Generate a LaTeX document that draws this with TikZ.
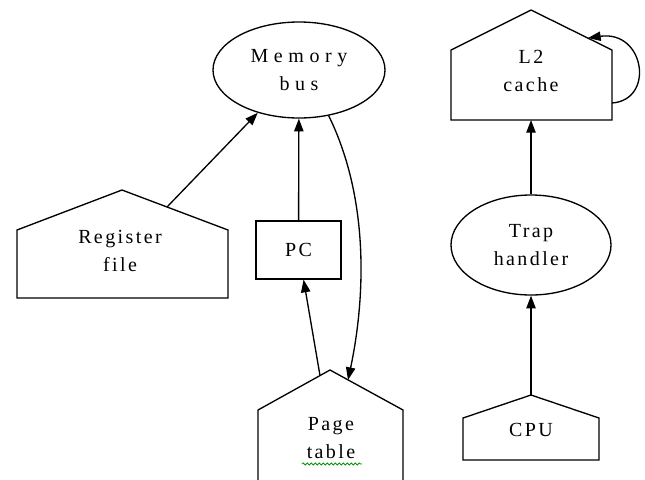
\documentclass[tikz,border=0pt]{standalone}
\usepackage{fontspec}
\setmainfont{Liberation Serif}
\usetikzlibrary{arrows.meta,shapes.geometric,decorations.pathmorphing}
\begin{document}
\begin{tikzpicture}[x=0.75pt,y=-0.75pt,
  line/.style={line width=1pt,line join=miter},
  edge/.style={line width=1pt,-{Triangle[length=9.5pt,width=7pt]}},
  lbl/.style={align=center,inner sep=0pt,font=\fontsize{15pt}{20.5pt}\selectfont\addfontfeatures{LetterSpace=12}},
  widelbl/.style={align=center,inner sep=0pt,font=\fontsize{15pt}{20.5pt}\selectfont\addfontfeatures{LetterSpace=28}},
  oval/.style={draw,line width=1pt,ellipse,inner sep=0pt},
  squig/.style={draw=green!60!black,line width=0.6pt,decorate,decoration={snake,amplitude=0.8pt,segment length=3pt}}
]
\useasboundingbox (0,0) rectangle (645,479);
\clip (0,0) rectangle (645,479);
\fill[white] (0,0) rectangle (645,479);

% Memory bus
\node[oval,minimum width=129pt,minimum height=72pt,widelbl] (mem) at (299,70) {Memory\\bus};

% Register file (house)
\draw[line] (17,298) -- (17,230) -- (122,190) coordinate (regA) -- (228,230) -- (228,298) -- cycle;
\coordinate (regR) at (167,207);
\node[lbl] (regt) at (120,251) {Register\\file};

% PC
\node[draw,line width=1pt,minimum width=63.75pt,minimum height=43.5pt,lbl] (pc) at (298.5,250) {PC};

% Page table (house, cut at bottom)
\draw[line] (258,485) -- (258,410) -- (330,370) coordinate (pagA) -- (403,410) -- (403,485);
\coordinate (pagL) at (320,375.6);
\coordinate (pagR) at (348,380);
\node[lbl] (pagt) at (331,438) {Page\\table};
\draw[squig] (302,464) -- (362,464);

% L2 cache (house)
\draw[line] (451,120) -- (451,50) -- (531,10) coordinate (l2A) -- (612,50) -- (612,120) -- cycle;
\coordinate (l2B) at (531,120);
\coordinate (l2W) at (612,103);
\coordinate (l2Roof) at (588,38);
\node[lbl] (l2t) at (531,71) {L2\\cache};

% Trap handler
\node[oval,minimum width=120pt,minimum height=75pt,lbl] (trap) at (531,245) {Trap\\handler};

% CPU (house)
\draw[line] (463,460) -- (463,418) -- (531,395) coordinate (cpuA) -- (599,418) -- (599,460) -- cycle;
\node[lbl] (cput) at (531,430) {CPU};

% connectors
\draw[edge] (regR) -- (mem);
\draw[edge] (pc) -- (mem);
\draw[edge] (mem.-57) .. controls (370,200) and (365,300) .. (pagR);
\draw[edge] (pagL) -- (pc);
\draw[edge] (trap) -- (l2B);
\draw[edge] (cpuA) -- (trap);
\draw[edge] (l2W) .. controls (655,100) and (645,30) .. (l2Roof);
\end{tikzpicture}
\end{document}
